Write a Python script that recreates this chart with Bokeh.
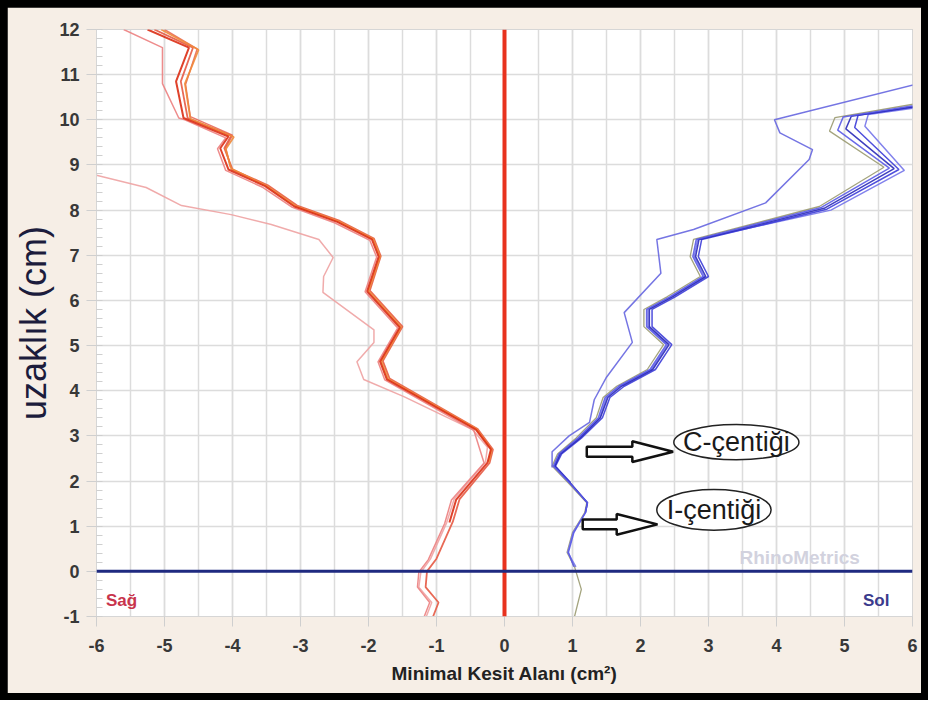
from bokeh.plotting import figure
from bokeh.layouts import column
from bokeh.models import Range1d, SingleIntervalTicker, Span, Label
from bokeh.embed import file_html
from bokeh.resources import INLINE
from bokeh.core.properties import value

# ---------------- data ----------------
# Right side ("Sağ") red curves: x = area (negative), y = distance
r1_x = [-5.25, -4.64, -4.83, -4.72, -4.06, -4.18, -4.06, -3.52, -3.09, -2.46, -1.95, -1.85, -2.02, -1.54, -1.83, -1.73, -0.42, -0.20, -0.25, -0.71, -0.81]
r1_y = [12.0, 11.6, 10.85, 10.04, 9.63, 9.37, 8.9, 8.53, 8.08, 7.74, 7.35, 6.97, 6.2, 5.4, 4.65, 4.25, 3.14, 2.7, 2.41, 1.59, 1.08]
r2_x = [-5.15, -4.58, -4.76, -4.66, -4.02, -4.12, -4.00, -3.48, -3.05, -2.42, -1.92, -1.82, -1.98, -1.50, -1.79, -1.69, -0.40, -0.17, -0.22, -0.66, -0.76, -1.00, -1.14, -1.16, -0.97, -1.05]
r2_y = [12.0, 11.6, 10.85, 10.04, 9.65, 9.37, 8.9, 8.55, 8.1, 7.76, 7.37, 6.98, 6.22, 5.42, 4.66, 4.27, 3.16, 2.7, 2.4, 1.6, 1.1, 0.28, 0.0, -0.35, -0.69, -1.0]
r3_x = [-5.05, -4.50, -4.70, -4.62, -3.98, -4.10, -4.02, -3.50, -3.07, -2.44, -1.93, -1.83, -2.00, -1.52, -1.81, -1.71, -0.41, -0.19, -0.23]
r3_y = [12.0, 11.55, 10.8, 10.02, 9.62, 9.35, 8.92, 8.54, 8.09, 7.75, 7.36, 6.97, 6.21, 5.41, 4.65, 4.26, 3.15, 2.7, 2.41]
r4_x = [-5.00, -4.52, -4.69, -4.62, -4.00, -4.10, -4.03]
r4_y = [12.0, 11.57, 10.78, 10.07, 9.66, 9.38, 8.95]
r5_x = [-5.60, -5.03, -5.03, -4.79, -4.70, -4.10, -4.22, -4.10, -3.55, -3.12, -2.50, -1.98, -1.88, -2.05, -1.57, -1.86, -1.76, -0.45, -0.30, -0.78, -0.88, -1.12, -1.26, -1.28, -1.10, -1.18]
r5_y = [12.0, 11.6, 10.8, 10.04, 10.0, 9.6, 9.36, 8.88, 8.5, 8.06, 7.72, 7.33, 6.96, 6.19, 5.39, 4.64, 4.24, 3.12, 2.4, 1.58, 1.06, 0.26, -0.02, -0.35, -0.69, -1.0]
r6_x = [-6.30, -6.00, -5.27, -4.75, -4.02, -3.43, -2.73, -2.52, -2.66, -2.67, -1.92, -1.92, -2.17, -2.07, -1.48, -0.47, -0.25, -0.28, -0.74, -0.85, -1.09, -1.23, -1.26, -1.07, -1.15]
r6_y = [8.85, 8.77, 8.5, 8.1, 7.9, 7.68, 7.35, 6.95, 6.53, 6.18, 5.35, 5.07, 4.64, 4.25, 3.87, 3.14, 2.75, 2.42, 1.6, 1.08, 0.27, -0.02, -0.35, -0.69, -1.0]

# Left side ("Sol") blue curves
b1_x = [1.03, 1.13, 1.03, 0.92, 1.00, 1.18, 1.21, 0.93, 0.70, 0.78, 1.05, 1.35, 1.45, 1.65, 2.10, 2.34, 2.05, 2.05, 2.39, 2.88, 2.73, 2.78, 4.63, 5.58, 4.78, 4.86, 6.30]
b1_y = [-1.0, -0.4, 0.1, 0.42, 0.86, 1.3, 1.52, 1.97, 2.33, 2.6, 2.95, 3.4, 3.85, 4.1, 4.47, 5.02, 5.42, 5.8, 6.08, 6.53, 6.97, 7.35, 8.08, 8.95, 9.75, 10.05, 10.42]
b2_x = [1.02, 0.94, 1.02, 1.19, 1.22, 0.95, 0.72, 0.80, 1.08, 1.38, 1.48, 1.68, 2.14, 2.38, 2.09, 2.09, 2.43, 2.92, 2.77, 2.82, 4.66, 5.66, 4.90, 4.98, 6.30]
b2_y = [0.1, 0.42, 0.86, 1.3, 1.52, 1.97, 2.33, 2.6, 2.95, 3.4, 3.85, 4.1, 4.47, 5.02, 5.42, 5.8, 6.08, 6.53, 6.97, 7.35, 8.06, 8.93, 9.77, 10.06, 10.38]
b3_x = [1.19, 1.22, 0.96, 0.74, 0.82, 1.11, 1.41, 1.52, 1.72, 2.18, 2.42, 2.13, 2.13, 2.47, 2.96, 2.81, 2.86, 4.70, 5.73, 5.02, 5.10, 6.30]
b3_y = [1.3, 1.52, 1.97, 2.33, 2.6, 2.95, 3.4, 3.85, 4.1, 4.47, 5.02, 5.42, 5.8, 6.08, 6.53, 6.97, 7.35, 8.04, 8.92, 9.8, 10.08, 10.36]
b4_x = [0.97, 0.75, 0.84, 1.13, 1.44, 1.55, 1.76, 2.22, 2.46, 2.17, 2.17, 2.51, 3.00, 2.85, 2.90, 4.74, 5.80, 5.15, 5.20, 6.30]
b4_y = [1.97, 2.33, 2.6, 2.95, 3.4, 3.85, 4.1, 4.47, 5.02, 5.42, 5.8, 6.08, 6.53, 6.97, 7.35, 8.02, 8.9, 9.83, 10.1, 10.34]
b5_x = [1.05, 0.93, 1.01, 1.19, 1.22, 0.96, 0.73, 0.81, 1.09, 1.40, 1.50, 1.70, 2.16, 2.40, 2.11, 2.11, 2.45, 2.94, 2.79, 2.84, 4.80, 5.88, 5.30, 5.35, 6.30]
b5_y = [0.1, 0.42, 0.86, 1.3, 1.52, 1.97, 2.33, 2.6, 2.95, 3.4, 3.85, 4.1, 4.47, 5.02, 5.42, 5.8, 6.08, 6.53, 6.97, 7.35, 8.0, 8.88, 9.86, 10.12, 10.32]
b6_x = [0.70, 0.70, 0.95, 1.25, 1.32, 1.50, 1.88, 1.76, 2.30, 2.24, 2.78, 3.84, 4.48, 4.53, 4.05, 3.97, 6.30]
b6_y = [2.3, 2.65, 3.0, 3.3, 3.8, 4.3, 5.07, 5.73, 6.6, 7.35, 7.57, 8.16, 9.12, 9.34, 9.71, 10.0, 10.88]

x_ticks = [-6, -5, -4, -3, -2, -1, 0, 1, 2, 3, 4, 5, 6]
y_ticks = [-1, 0, 1, 2, 3, 4, 5, 6, 7, 8, 9, 10, 11, 12]

# annotations
note_text = ["C-çentiği", "I-çentiği"]
note_x = [3.41, 3.08]
note_y = [2.86, 1.36]
note_w = [1.84, 1.68]
note_h = [0.78, 0.9]
arrow_x0 = [1.21, 1.15]
arrow_x1 = [2.48, 2.25]
arrow_y = [2.65, 1.04]

# ---------------- figure ----------------
p = figure(width=914, height=686,
           x_range=Range1d(-6, 6), y_range=Range1d(-1, 12),
           output_backend="svg", toolbar_location=None,
           min_border_left=89, min_border_right=9,
           min_border_top=22, min_border_bottom=77)
p.background_fill_color = "#ffffff"
p.border_fill_color = "#f6eee6"
p.outline_line_color = "#d6d6d6"

grid_col = "#dcdcdc"
p.xaxis.ticker = SingleIntervalTicker(interval=1, num_minor_ticks=2)
p.yaxis.ticker = SingleIntervalTicker(interval=1, num_minor_ticks=5)
p.xaxis.major_label_overrides = {t: str(t) for t in x_ticks}
p.yaxis.major_label_overrides = {t: str(t) for t in y_ticks}
p.xgrid.grid_line_color = grid_col
p.xgrid.minor_grid_line_color = grid_col
p.ygrid.grid_line_color = grid_col
p.xgrid.grid_line_width = 1.5
p.xgrid.minor_grid_line_width = 1.5
p.ygrid.grid_line_width = 1.5

for ax in (p.xaxis[0], p.yaxis[0]):
    ax.axis_line_color = "#d6d6d6"
    ax.major_tick_line_color = "#cfcfcf"
    ax.major_tick_in = 0
    ax.major_tick_out = 10
    ax.major_label_text_font = "Liberation Sans"
    ax.major_label_text_font_style = "bold"
    ax.major_label_text_font_size = "18px"
    ax.major_label_text_color = "#383838"

p.xaxis.minor_tick_line_color = None
p.yaxis.minor_tick_line_color = "#cfcfcf"
p.yaxis.minor_tick_in = 6
p.yaxis.minor_tick_out = 0
p.xaxis.major_label_standoff = 12
p.yaxis.major_label_standoff = 7

p.xaxis.axis_label = "Minimal Kesit Alanı (cm²)"
p.xaxis.axis_label_text_font = "Liberation Sans"
p.xaxis.axis_label_text_font_style = "bold"
p.xaxis.axis_label_text_font_size = "19px"
p.xaxis.axis_label_text_color = "#222222"
p.xaxis.axis_label_standoff = 8

p.yaxis.axis_label = "uzaklık (cm)"
p.yaxis.axis_label_text_font = "Liberation Sans"
p.yaxis.axis_label_text_font_style = "normal"
p.yaxis.axis_label_text_font_size = "36px"
p.yaxis.axis_label_text_color = "#1c1c3c"
p.yaxis.axis_label_standoff = 2

# red curves
red_series = [
    (r6_x, r6_y, "#eea2a2", 1.5),
    (r5_x, r5_y, "#ec8080", 1.5),
    (r4_x, r4_y, "#e86a5a", 1.5),
    (r2_x, r2_y, "#e65a44", 1.8),
    (r3_x, r3_y, "#f08a3a", 1.8),
    (r1_x, r1_y, "#dc2e14", 2.0),
]
for xs, ys, c, w in red_series:
    p.line(xs, ys, line_color=c, line_width=w, line_alpha=0.9)

blue_series = [
    (b1_x, b1_y, "#9a9a70", 1.3),
    (b6_x, b6_y, "#6666e0", 1.5),
    (b5_x, b5_y, "#7474ea", 1.5),
    (b4_x, b4_y, "#3c3cd8", 1.5),
    (b3_x, b3_y, "#2a2ab8", 1.5),
    (b2_x, b2_y, "#5a5ae6", 1.5),
]
for xs, ys, c, w in blue_series:
    p.line(xs, ys, line_color=c, line_width=w, line_alpha=0.9)

# reference lines
p.add_layout(Span(location=0, dimension="height", line_color="#e8321e", line_width=4))
p.add_layout(Span(location=0, dimension="width", line_color="#1f2a80", line_width=3))

# side labels and watermark
p.add_layout(Label(x=-5.86, y=-0.65, text="Sağ", text_font="Liberation Sans",
                   text_font_style="bold", text_font_size="17px", text_color="#c8344c",
                   text_baseline="middle", text_align="left"))
p.add_layout(Label(x=5.66, y=-0.65, text="Sol", text_font="Liberation Sans",
                   text_font_style="bold", text_font_size="17px", text_color="#3a3a8c",
                   text_baseline="middle", text_align="right"))
p.add_layout(Label(x=4.34, y=0.31, text="RhinoMetrics", text_font="Liberation Sans",
                   text_font_style="bold", text_font_size="19px", text_color="#d2d2de",
                   text_baseline="middle", text_align="center"))

# block arrows (outlined) toward notes
shaft_h = 0.11
head_h = 0.23
head_len = 0.6
ax_list, ay_list = [], []
for x0, x1, yy in zip(arrow_x0, arrow_x1, arrow_y):
    xh = x1 - head_len
    ax_list.append([x0, xh, xh, x1, xh, xh, x0])
    ay_list.append([yy - shaft_h, yy - shaft_h, yy - head_h, yy, yy + head_h, yy + shaft_h, yy + shaft_h])
p.patches(ax_list, ay_list, fill_color="#ffffff", line_color="#111111", line_width=2.5)

p.ellipse(x=note_x, y=note_y, width=note_w, height=note_h,
          fill_color="#ffffff", line_color="#222222", line_width=1.5)
p.text(x=note_x, y=note_y, text=note_text, text_font=value("Liberation Sans"),
       text_font_size="27px", text_color="#1a1a1a",
       text_align="center", text_baseline="middle")

layout = column(p, styles={"background-color": "#000000", "padding": "7px"})
open("out.html", "w").write(file_html(layout, INLINE))
